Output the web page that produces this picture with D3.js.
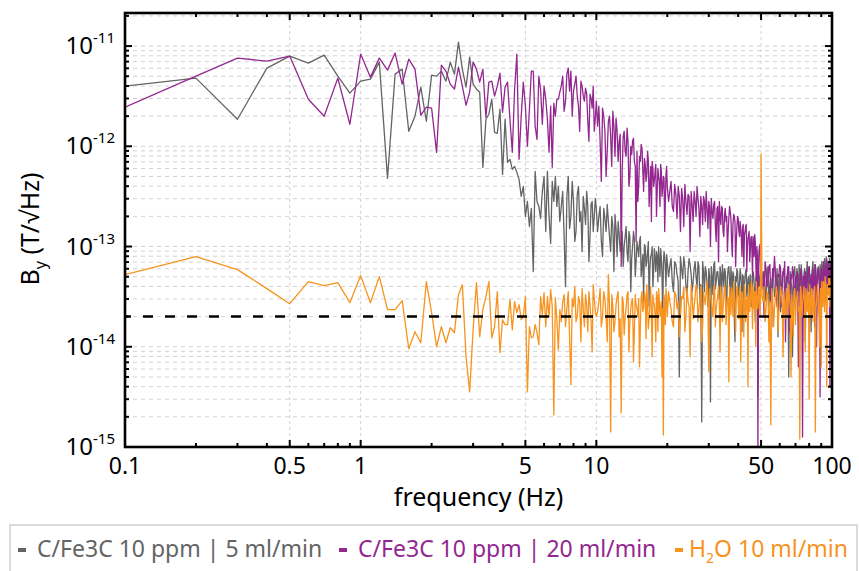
<!DOCTYPE html>
<html>

<head>
    <meta charset="utf-8">
    <script src="https://cdn.jsdelivr.net/npm/d3@7"></script>
    <style>
        body { margin: 0; background: #fff; }
        svg { font-family: "Noto Sans", "Open Sans", sans-serif; }
    </style>
</head>

<body>
    <div id="container"></div>
    <script>
        // frequency grid (Hz): 0.1 Hz steps at the low end, coarser above
        const freqA = d3.range(1, 101).map(i => i / 10);   // 0.1 .. 10
        const freqC = d3.range(81, 161).map(i => i / 8);   // 10.125 .. 20
        const freqD = d3.range(81, 201).map(i => i / 4);   // 20.25 .. 50
        const freqE = d3.range(101, 201).map(i => i / 2); // 50.5 .. 100
        const freqs = [...freqA, ...freqC, ...freqD, ...freqE];

        // log10 of B_y (T/sqrt(Hz))
        const grayLog = [
            -11.40, -11.32, -11.73, -11.22, -11.10, -11.17, -11.09, -11.30, -11.47, -11.35,
            -11.33, -11.16, -12.32, -11.28, -11.23, -11.85, -11.70, -11.41, -11.75, -11.29,
            -11.30, -11.25, -11.35, -11.16, -11.28, -10.96, -11.23, -11.41, -11.11, -11.38,
            -11.43, -11.46, -12.21, -11.73, -11.68, -11.53, -11.86, -11.87, -11.63, -12.28,
            -11.73, -12.16, -12.13, -12.23, -12.20, -12.26, -12.33, -12.50, -12.40, -12.70,
            -12.55, -12.80, -12.62, -13.25, -12.25, -12.55, -12.60, -12.72, -12.45, -12.30,
            -12.85, -12.25, -12.70, -12.97, -12.35, -12.55, -12.30, -12.60, -12.40, -12.75,
            -12.60, -12.45, -12.90, -13.40, -12.50, -12.30, -12.82, -12.70, -12.35, -12.55,
            -12.95, -12.85, -12.48, -12.40, -12.75, -12.65, -13.05, -12.50, -12.62, -12.78,
            -12.45, -12.60, -13.15, -12.90, -12.58, -12.55, -12.85, -12.70, -12.52, -12.62,
            // 10.125 .. 20
            -12.85, -12.70, -12.60, -12.95, -13.10, -12.62, -12.72, -12.85, -12.58, -12.75, -12.90, -13.05, -12.70, -12.80, -13.25, -12.68, -12.82, -13.10, -12.75, -12.88,
            -13.05, -12.95, -12.85, -13.20, -13.00, -12.90, -12.80, -13.05, -13.15, -12.85, -12.90, -13.45, -13.12, -13.00, -12.85, -12.92, -13.30, -13.15, -12.95, -13.02,
            -13.10, -12.95, -12.90, -13.30, -13.20, -13.08, -13.55, -12.98, -13.00, -13.20, -13.15, -13.05, -12.95, -13.60, -13.22, -13.10, -13.08, -13.00, -13.40, -13.25,
            -13.02, -13.12, -13.25, -13.05, -13.10, -13.35, -13.00, -13.15, -13.30, -13.02, -13.12, -13.28, -13.75, -13.18, -13.05, -13.10, -13.22, -13.40, -13.08, -13.15,
            // 20.25 .. 50
            -13.30, -13.20, -13.12, -13.35, -13.45, -13.15, -13.18, -13.28, -13.35, -14.30, -13.10, -13.22, -13.32, -13.10, -13.20, -13.40, -13.50, -13.25, -13.12, -13.18,
            -13.28, -13.45, -13.35, -13.22, -13.15, -13.30, -13.42, -13.15, -13.20, -13.55, -13.38, -14.75, -13.15, -13.25, -13.45, -13.20, -13.25, -13.38, -13.60, -13.22,
            -13.30, -14.55, -13.20, -13.30, -13.48, -13.18, -13.15, -13.42, -13.35, -13.25, -13.25, -13.35, -13.52, -13.20, -13.28, -13.60, -13.18, -13.28, -13.40, -13.22,
            -13.25, -13.48, -13.58, -13.30, -13.22, -13.20, -13.35, -13.55, -13.20, -13.32, -13.45, -13.25, -13.28, -13.70, -13.95, -13.30, -13.35, -13.22, -13.25, -13.45,
            -13.50, -13.35, -13.22, -13.28, -13.40, -13.85, -13.28, -13.30, -13.65, -13.38, -13.30, -13.25, -13.22, -13.50, -13.45, -13.33, -13.30, -13.45, -13.55, -13.28,
            -13.30, -13.60, -13.42, -13.35, -13.25, -13.28, -13.38, -13.50, -13.75, -13.32, -13.30, -13.40, -13.45, -14.50, -13.28, -13.35, -13.40, -13.30, -13.25, -13.20,
            // 50.5 .. 100
            -13.42, -13.30, -13.25, -13.45, -13.55, -13.25, -13.20, -13.60, -13.38, -13.32, -13.80, -13.22, -13.28, -13.50, -13.45, -13.35, -13.22, -13.90, -13.35, -13.28,
            -13.65, -13.40, -13.30, -13.25, -13.22, -13.55, -13.48, -13.30, -13.35, -13.20, -14.30, -13.48, -13.25, -13.35, -13.42, -14.10, -13.30, -13.28, -13.20, -13.40,
            -13.52, -13.22, -13.30, -13.60, -13.18, -13.30, -13.40, -13.18, -13.28, -13.45, -13.60, -13.28, -13.22, -13.95, -13.38, -13.25, -13.15, -13.35, -13.45, -13.20,
            -13.30, -13.50, -13.85, -13.28, -13.22, -13.15, -13.35, -13.42, -13.18, -13.25, -13.50, -13.70, -13.28, -13.22, -13.20, -13.35, -13.40, -13.18, -13.25, -13.48,
            -13.15, -13.20, -13.38, -13.30, -13.22, -13.12, -13.28, -13.55, -13.10, -13.22, -13.35, -13.15, -13.20, -13.40, -13.12, -13.18, -13.30, -13.25, -13.20, -13.15
        ];

        const purpleLog = [
            -11.61, -11.30, -11.12, -11.15, -11.10, -11.53, -11.70, -11.32, -11.78, -11.08,
            -11.31, -11.12, -11.24, -11.07, -11.38, -11.13, -11.23, -11.69, -11.61, -11.62,
            -12.06, -11.19, -11.25, -11.38, -11.43, -11.21, -11.40, -11.59, -11.46, -11.16,
            -11.23, -11.36, -11.23, -11.71, -11.36, -11.35, -11.50, -11.40, -11.27, -11.66,
            -11.41, -11.36, -11.73, -12.06, -11.43, -11.08, -12.13, -11.70, -11.36, -11.60,
            -12.00, -11.63, -11.25, -11.25, -11.80, -11.93, -11.30, -11.43, -11.78, -11.40,
            -11.53, -11.73, -12.06, -11.60, -12.21, -11.57, -11.70, -11.53, -11.53, -11.46,
            -11.40, -11.30, -11.65, -11.55, -11.28, -11.22, -11.45, -11.25, -11.70, -11.45,
            -11.38, -11.30, -11.50, -11.60, -11.85, -11.35, -11.40, -11.50, -11.55, -11.42,
            -11.48, -11.75, -11.95, -11.48, -11.52, -11.62, -11.40, -11.85, -11.72, -11.55,
            // 10.125 .. 20
            -11.80, -11.60, -11.95, -12.35, -11.62, -11.70, -11.85, -12.30, -12.05, -11.75, -11.70, -11.90, -12.20, -11.65, -11.80, -12.10, -11.72, -11.85, -12.15, -11.95,
            -11.88, -13.20, -12.25, -11.90, -11.85, -12.05, -12.10, -11.82, -11.95, -12.40, -12.30, -12.00, -12.08, -11.95, -11.92, -12.15, -12.20, -12.95, -12.05, -12.55,
            -12.40, -12.10, -12.15, -11.98, -12.02, -12.25, -12.45, -12.12, -12.18, -12.35, -12.28, -12.05, -12.15, -12.60, -12.38, -12.20, -12.75, -12.15, -12.22, -12.40,
            -12.35, -12.25, -12.18, -12.70, -12.45, -12.22, -12.30, -12.35, -12.60, -12.18, -12.25, -12.50, -12.42, -12.30, -12.32, -12.85, -12.55, -12.28, -12.20, -12.40,
            // 20.25 .. 50
            -12.55, -12.45, -12.35, -12.60, -12.65, -12.38, -12.48, -12.72, -12.40, -12.50, -12.85, -12.42, -12.52, -12.80, -12.38, -12.55, -12.68, -12.48, -12.50, -13.05,
            -12.45, -12.58, -12.75, -12.45, -12.55, -12.70, -12.40, -12.52, -12.62, -12.90, -12.50, -12.60, -12.78, -12.50, -12.55, -12.75, -12.45, -12.62, -12.82, -12.55,
            -12.60, -13.00, -12.52, -12.65, -12.72, -12.58, -12.55, -12.80, -12.95, -12.62, -12.60, -13.15, -12.55, -12.70, -12.78, -12.60, -12.62, -12.85, -12.90, -12.68,
            -12.62, -12.75, -12.70, -13.05, -12.85, -12.72, -12.60, -12.65, -12.72, -12.95, -13.10, -12.78, -12.68, -12.70, -12.75, -13.20, -12.95, -12.80, -12.70, -12.72,
            -12.85, -12.90, -12.75, -12.82, -12.92, -13.10, -12.80, -12.78, -13.20, -12.88, -12.85, -12.80, -12.78, -13.25, -13.00, -12.92, -12.88, -12.85, -13.15, -13.05,
            -12.92, -12.90, -13.05, -13.30, -12.90, -12.95, -13.10, -12.88, -12.95, -13.15, -13.40, -13.00, -13.10, -15.10, -13.20, -13.05, -13.00, -12.98, -13.35, -13.20,
            // 50.5 .. 100
            -13.40, -13.25, -13.70, -13.15, -13.22, -13.40, -13.35, -13.20, -13.18, -13.55, -13.50, -13.22, -13.30, -13.10, -13.25, -13.45, -13.60, -13.28, -13.30, -13.18,
            -13.22, -13.60, -13.40, -13.25, -13.28, -13.15, -13.95, -13.38, -13.30, -13.22, -13.20, -13.85, -13.45, -13.28, -13.32, -13.20, -13.25, -13.45, -13.55, -13.30,
            -13.35, -13.25, -13.28, -14.20, -13.48, -13.35, -13.25, -13.22, -13.40, -14.90, -13.30, -13.30, -13.70, -13.25, -13.28, -13.55, -13.35, -13.28, -13.22, -13.20,
            -13.40, -13.65, -13.28, -13.30, -13.55, -13.22, -13.30, -13.40, -13.80, -13.18, -13.25, -14.00, -13.35, -13.25, -13.22, -13.32, -13.30, -14.50, -13.45, -13.22,
            -13.25, -13.30, -13.50, -13.15, -13.20, -13.45, -13.38, -13.20, -13.25, -13.12, -13.48, -13.35, -13.22, -13.18, -13.30, -14.40, -13.15, -13.22, -13.28, -13.10
        ];

        const orangeLog = [
            -13.28, -13.10, -13.23, -13.42, -13.57, -13.35, -13.39, -13.36, -13.56, -13.29,
            -13.56, -13.30, -13.63, -13.63, -13.54, -14.02, -13.85, -13.96, -13.35, -13.66,
            -14.00, -13.80, -13.96, -13.81, -13.86, -13.48, -13.38, -14.10, -14.45, -13.83,
            -13.36, -13.90, -13.63, -13.50, -13.35, -13.91, -13.80, -13.45, -14.06, -13.73,
            -13.78, -13.78, -13.53, -13.83, -13.55, -13.66, -13.58, -13.73, -13.70, -13.50,
            -14.45, -13.80, -13.91, -13.90, -13.78, -13.86, -13.98, -13.50, -13.68, -13.46,
            -13.80, -13.50, -13.70, -13.43, -13.60, -14.68, -13.51, -13.73, -14.03, -13.63,
            -13.75, -13.55, -13.48, -13.80, -13.62, -13.45, -13.90, -14.38, -13.52, -13.60,
            -13.40, -13.75, -13.70, -13.50, -13.55, -13.95, -13.42, -13.62, -13.80, -13.48,
            -13.58, -13.85, -13.45, -13.58, -13.75, -14.05, -13.38, -13.52, -13.65, -13.70,
            // 10.125 .. 20
            -13.65, -13.55, -13.42, -13.80, -13.70, -13.45, -13.52, -13.70, -13.95, -13.28, -13.60, -14.85, -13.48, -13.60, -13.85, -13.75, -13.58, -13.50, -13.45, -13.90,
            -13.72, -14.66, -13.50, -13.55, -13.88, -13.70, -13.62, -13.48, -13.45, -14.05, -13.75, -13.62, -13.55, -13.52, -14.15, -13.85, -13.48, -13.58, -13.62, -13.70,
            -13.52, -14.20, -13.78, -13.50, -13.45, -13.65, -13.60, -13.45, -13.50, -13.92, -13.38, -13.58, -13.82, -13.72, -13.55, -13.40, -13.65, -14.10, -13.48, -13.55,
            -13.58, -13.68, -13.95, -13.45, -13.50, -13.85, -13.42, -13.52, -13.70, -13.62, -13.55, -14.30, -13.62, -14.88, -13.48, -13.55, -13.78, -13.42, -13.50, -13.70,
            // 20.25 .. 50
            -13.45, -13.55, -13.62, -13.75, -13.80, -13.45, -13.48, -13.62, -13.55, -13.90, -13.70, -13.50, -13.52, -13.40, -13.85, -13.70, -13.42, -13.55, -13.60, -14.10,
            -13.38, -13.48, -13.72, -13.60, -13.50, -13.38, -13.45, -13.75, -13.62, -13.52, -13.40, -13.95, -13.80, -13.45, -13.52, -13.58, -13.45, -13.35, -13.58, -14.25,
            -13.42, -13.50, -13.55, -13.65, -13.70, -13.42, -13.38, -13.80, -13.62, -13.55, -13.48, -13.40, -13.55, -14.05, -13.40, -13.52, -13.75, -13.62, -13.50, -13.38,
            -13.45, -13.78, -13.60, -13.50, -13.52, -14.35, -13.40, -13.55, -13.68, -13.42, -13.50, -13.70, -13.35, -13.48, -13.60, -13.85, -13.52, -13.40, -13.45, -13.60,
            -13.72, -13.50, -13.40, -14.15, -13.58, -13.45, -13.48, -13.65, -13.90, -13.38, -13.42, -13.75, -13.60, -13.52, -13.50, -14.40, -13.38, -13.48, -13.65, -13.60,
            -13.45, -13.35, -13.55, -13.82, -13.40, -13.55, -13.62, -13.45, -13.48, -14.00, -13.35, -13.50, -13.58, -13.62, -13.42, -13.40, -13.55, -13.70, -13.48, -12.08,
            // 50.5 .. 100
            -13.50, -13.55, -13.40, -13.75, -13.62, -13.45, -13.48, -13.95, -13.55, -14.78, -13.42, -13.50, -13.80, -13.62, -13.52, -13.40, -13.45, -13.85, -13.65, -13.55,
            -13.40, -13.48, -13.58, -14.10, -13.45, -13.58, -13.72, -13.42, -13.50, -13.70, -13.38, -13.52, -13.62, -14.30, -13.48, -13.60, -13.90, -13.45, -13.42, -13.78,
            -13.55, -13.50, -13.45, -13.65, -13.60, -14.92, -13.40, -13.48, -13.70, -13.58, -13.48, -13.40, -13.55, -14.05, -13.42, -13.55, -13.65, -13.45, -13.50, -14.52,
            -13.38, -13.60, -13.70, -13.42, -13.45, -13.75, -13.58, -13.50, -13.40, -14.85, -13.62, -13.55, -13.45, -13.38, -13.50, -13.70, -14.00, -13.48, -13.42, -14.20,
            -13.35, -13.52, -13.60, -13.35, -13.40, -13.65, -13.30, -13.42, -13.55, -14.40, -13.38, -13.45, -13.48, -13.30, -13.32, -13.60, -13.45, -13.38, -13.28, -13.25
        ];

        const noiseFloor = 2e-14;

        const seriesNames = ["C/Fe3C 10 ppm | 5 ml/min", "C/Fe3C 10 ppm | 20 ml/min", "H2O 10 ml/min"];
        const seriesColors = ["#646464", "#93278f", "#f7931e"];
        const xLabels = [0.1, 0.5, 1, 5, 10, 50, 100];
        const yDecades = [-15, -14, -13, -12, -11];

        const width = 859, height = 571;
        const margin = { left: 125, right: 27, top: 13, bottom: 124 };

        const x = d3.scaleLog()
            .domain([0.1, 100])
            .range([margin.left, width - margin.right]);
        const y = d3.scaleLog()
            .domain([1e-15, Math.pow(10, -10.67)])
            .range([height - margin.bottom, margin.top]);

        const svg = d3.select("#container").append("svg")
            .attr("width", width)
            .attr("height", height);

        svg.append("defs").append("clipPath").attr("id", "plot-clip")
            .append("rect")
            .attr("x", x.range()[0]).attr("y", y.range()[1])
            .attr("width", x.range()[1] - x.range()[0])
            .attr("height", y.range()[0] - y.range()[1]);

        const gridGroup = svg.append("g");
        const lineGroup = svg.append("g").attr("clip-path", "url(#plot-clip)");
        const axisGroup = svg.append("g");

        // grid lines
        gridGroup.selectAll(".hgrid")
            .data(y.ticks())
            .join("line")
            .attr("x1", x.range()[0]).attr("x2", x.range()[1])
            .attr("y1", d => y(d)).attr("y2", d => y(d))
            .attr("stroke", "#d2d2d2")
            .attr("stroke-width", 1)
            .attr("stroke-dasharray", "4,4");

        gridGroup.selectAll(".vgrid")
            .data(xLabels.slice(1, -1))
            .join("line")
            .attr("x1", d => x(d)).attr("x2", d => x(d))
            .attr("y1", y.range()[1]).attr("y2", y.range()[0])
            .attr("stroke", "#d2d2d2")
            .attr("stroke-width", 1)
            .attr("stroke-dasharray", "3,3");

        // spectra
        const line = d3.line()
            .x((d, i) => x(freqs[i]))
            .y(d => y(Math.pow(10, d)));

        [grayLog, purpleLog, orangeLog].forEach((vals, k) => {
            lineGroup.append("path")
                .datum(vals)
                .attr("fill", "none")
                .attr("stroke", seriesColors[k])
                .attr("stroke-width", 1.3)
                .attr("stroke-linejoin", "round")
                .attr("d", line);
        });

        // noise floor
        lineGroup.append("line")
            .attr("x1", x(0.1)).attr("x2", x(100))
            .attr("y1", y(noiseFloor)).attr("y2", y(noiseFloor))
            .attr("stroke", "#000")
            .attr("stroke-width", 2.5)
            .attr("stroke-dasharray", "10,12")
            .attr("stroke-dashoffset", 4);

        // ticks (inward, on all four sides)
        const xMinor = x.ticks().filter(d => !xLabels.some(l => Math.abs(l - d) < 1e-9));
        const yMajor = yDecades.map(e => Math.pow(10, e));
        const yMinor = y.ticks().filter(d => !yMajor.some(m => Math.abs(Math.log10(m) - Math.log10(d)) < 1e-6));

        const [x0, x1] = x.range();
        const [yb, yt] = y.range();

        function tickSet(vals, len, horiz) {
            vals.forEach(v => {
                if (horiz) {
                    axisGroup.append("line").attr("x1", x(v)).attr("x2", x(v)).attr("y1", yb).attr("y2", yb - len);
                    axisGroup.append("line").attr("x1", x(v)).attr("x2", x(v)).attr("y1", yt).attr("y2", yt + len);
                } else {
                    axisGroup.append("line").attr("y1", y(v)).attr("y2", y(v)).attr("x1", x0).attr("x2", x0 + len);
                    axisGroup.append("line").attr("y1", y(v)).attr("y2", y(v)).attr("x1", x1).attr("x2", x1 - len);
                }
            });
        }
        tickSet(xLabels, 7, true);
        tickSet(xMinor, 4, true);
        tickSet(yMajor, 7, false);
        tickSet(yMinor, 4, false);
        axisGroup.selectAll("line").attr("stroke", "#000").attr("stroke-width", 2);

        axisGroup.append("rect")
            .attr("x", x0).attr("y", yt)
            .attr("width", x1 - x0).attr("height", yb - yt)
            .attr("fill", "none")
            .attr("stroke", "#000")
            .attr("stroke-width", 2.6);

        // tick labels
        axisGroup.selectAll(".xlabel")
            .data(xLabels)
            .join("text")
            .attr("x", d => x(d))
            .attr("y", yb + 27)
            .attr("text-anchor", "middle")
            .attr("font-size", 23)
            .attr("fill", "#000")
            .text(d => d);

        const ylab = axisGroup.selectAll(".ylabel")
            .data(yDecades)
            .join("text")
            .attr("x", x0 - 10)
            .attr("y", d => y(Math.pow(10, d)) + 8)
            .attr("text-anchor", "end")
            .attr("font-size", 24)
            .attr("fill", "#000");
        ylab.append("tspan").text("10");
        ylab.append("tspan")
            .attr("dy", -11)
            .attr("font-size", 15)
            .text(d => d);

        // axis titles
        svg.append("text")
            .attr("x", (x0 + x1) / 2)
            .attr("y", 506)
            .attr("text-anchor", "middle")
            .attr("font-size", 25)
            .text("frequency (Hz)");

        const yTitle = svg.append("text")
            .attr("transform", `translate(39,${(yt + yb) / 2 - 1}) rotate(-90)`)
            .attr("text-anchor", "middle")
            .attr("font-size", 25);
        yTitle.append("tspan").text("B");
        yTitle.append("tspan").attr("font-size", 16).attr("dy", 7).text("y");
        yTitle.append("tspan").attr("dy", -7).text(" (T/\u221AHz)");

        // legend
        svg.append("rect")
            .attr("x", 10).attr("y", 525)
            .attr("width", 847).attr("height", 70)
            .attr("fill", "#fff")
            .attr("stroke", "#cfcfcf")
            .attr("stroke-width", 1.5);

        const legendX = [18, 339, 675];
        seriesNames.forEach((name, k) => {
            svg.append("rect")
                .attr("x", legendX[k]).attr("y", 548)
                .attr("width", 8).attr("height", 4)
                .attr("fill", seriesColors[k]);
            const t = svg.append("text")
                .attr("x", legendX[k] + (k === 2 ? 14 : 19))
                .attr("y", 557)
                .attr("font-size", 23)
                .attr("fill", seriesColors[k]);
            if (k === 2) {
                t.append("tspan").text("H");
                t.append("tspan").attr("font-size", 14).attr("dy", 6).text("2");
                t.append("tspan").attr("dy", -6).text("O 10 ml/min");
            } else {
                t.text(name);
            }
        });
    </script>
</body>

</html>
